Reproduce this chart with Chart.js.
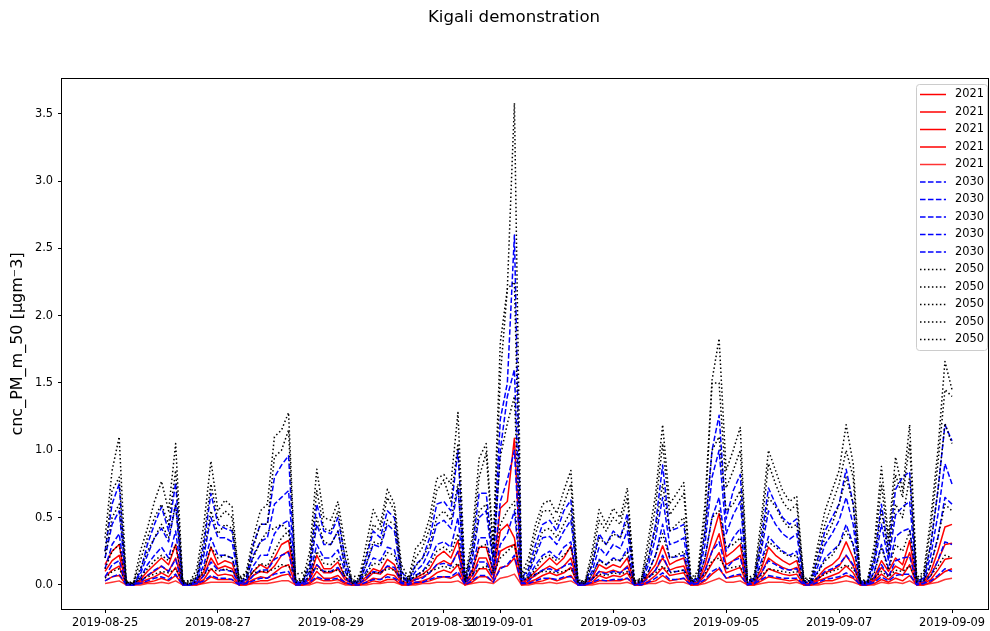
<!DOCTYPE html>
<html><head><meta charset="utf-8">
<script src="https://cdn.jsdelivr.net/npm/chart.js@4.4.1/dist/chart.umd.min.js"></script>
<style>html,body{margin:0;padding:0;background:#fff;}#wrap{width:990px;height:631px;}</style>
</head><body><div id="wrap"><canvas id="c" width="990" height="631"></canvas></div>
<script>
// hours after 2019-08-25 00:00 (3-hourly samples)
const hours = [0,3,6,9,12,15,18,21,24,27,30,33,36,39,42,45,48,51,54,57,60,63,66,69,72,75,78,81,84,87,90,93,96,99,102,105,108,111,114,117,120,123,126,129,132,135,138,141,144,147,150,153,156,159,162,165,168,171,174,177,180,183,186,189,192,195,198,201,204,207,210,213,216,219,222,225,228,231,234,237,240,243,246,249,252,255,258,261,264,267,270,273,276,279,282,285,288,291,294,297,300,303,306,309,312,315,318,321,324,327,330,333,336,339,342,345,348,351,354,357,360];
const tickHours = [0,48,96,144,168,216,264,312,360];
const tickLabels = ['2019-08-25','2019-08-27','2019-08-29','2019-08-31','2019-09-01','2019-09-03','2019-09-05','2019-09-07','2019-09-09'];
const yTickValues = [0,0.5,1,1.5,2,2.5,3,3.5];

const r2021a = [0.15,0.25,0.30,0.01,0.00,0.04,0.10,0.15, 0.20,0.15,0.30,0.01,0.00,0.02,0.10,0.28, 0.15,0.18,0.16,0.01,0.02,0.10,0.15,0.12, 0.20,0.30,0.33,0.01,0.01,0.05,0.22,0.12, 0.12,0.17,0.06,0.01,0.01,0.06,0.12,0.10, 0.19,0.15,0.03,0.01,0.05,0.08,0.12,0.21, 0.25,0.20,0.33,0.01,0.10,0.28,0.28,0.10, 0.57,0.62,1.09,0.02,0.05,0.10,0.15,0.20, 0.15,0.20,0.29,0.01,0.00,0.05,0.15,0.12, 0.15,0.13,0.20,0.01,0.01,0.08,0.15,0.29, 0.15,0.18,0.20,0.01,0.02,0.15,0.35,0.53, 0.21,0.25,0.30,0.01,0.02,0.12,0.28,0.22, 0.18,0.15,0.18,0.01,0.01,0.06,0.12,0.15, 0.20,0.32,0.20,0.01,0.01,0.06,0.18,0.10, 0.20,0.15,0.33,0.01,0.02,0.10,0.25,0.43, 0.45];
const r2021b = [0.10,0.18,0.22,0.01,0.00,0.03,0.07,0.10, 0.14,0.10,0.20,0.01,0.00,0.01,0.07,0.20, 0.12,0.14,0.12,0.01,0.02,0.07,0.10,0.09, 0.14,0.22,0.25,0.01,0.01,0.04,0.15,0.09, 0.09,0.12,0.04,0.01,0.01,0.04,0.09,0.08, 0.14,0.11,0.02,0.01,0.04,0.06,0.09,0.15, 0.18,0.15,0.25,0.01,0.07,0.20,0.20,0.07, 0.40,0.45,0.35,0.01,0.04,0.07,0.11,0.14, 0.11,0.14,0.20,0.01,0.00,0.04,0.10,0.09, 0.11,0.09,0.14,0.01,0.01,0.06,0.11,0.20, 0.11,0.13,0.14,0.01,0.01,0.11,0.25,0.38, 0.15,0.18,0.22,0.01,0.01,0.09,0.20,0.16, 0.13,0.11,0.13,0.01,0.01,0.04,0.09,0.11, 0.14,0.22,0.14,0.01,0.01,0.04,0.13,0.07, 0.14,0.11,0.24,0.01,0.01,0.07,0.18,0.30, 0.31];
const r2021c = [0.06,0.11,0.14,0.00,0.00,0.02,0.04,0.06, 0.09,0.06,0.13,0.00,0.00,0.01,0.04,0.12, 0.07,0.08,0.07,0.00,0.01,0.04,0.06,0.05, 0.09,0.13,0.15,0.00,0.00,0.02,0.10,0.05, 0.05,0.07,0.02,0.00,0.00,0.02,0.05,0.04, 0.08,0.07,0.01,0.00,0.02,0.03,0.05,0.09, 0.11,0.09,0.15,0.00,0.04,0.12,0.12,0.04, 0.25,0.28,0.30,0.01,0.02,0.04,0.07,0.09, 0.07,0.09,0.13,0.00,0.00,0.02,0.07,0.05, 0.07,0.06,0.09,0.00,0.00,0.03,0.07,0.13, 0.07,0.08,0.09,0.00,0.01,0.07,0.16,0.24, 0.09,0.11,0.13,0.00,0.01,0.05,0.12,0.10, 0.08,0.07,0.08,0.00,0.00,0.03,0.05,0.07, 0.09,0.14,0.09,0.00,0.00,0.03,0.08,0.04, 0.09,0.07,0.15,0.00,0.01,0.04,0.11,0.19, 0.20];
const r2021d = [0.03,0.06,0.07,0.00,0.00,0.01,0.02,0.03, 0.05,0.03,0.07,0.00,0.00,0.00,0.02,0.06, 0.04,0.04,0.04,0.00,0.00,0.02,0.03,0.03, 0.05,0.07,0.08,0.00,0.00,0.01,0.05,0.03, 0.03,0.04,0.01,0.00,0.00,0.01,0.03,0.02, 0.04,0.04,0.00,0.00,0.01,0.02,0.03,0.05, 0.06,0.05,0.08,0.00,0.02,0.06,0.06,0.02, 0.13,0.14,0.20,0.00,0.01,0.02,0.03,0.05, 0.03,0.05,0.07,0.00,0.00,0.01,0.03,0.03, 0.03,0.03,0.05,0.00,0.00,0.02,0.03,0.07, 0.03,0.04,0.05,0.00,0.00,0.03,0.08,0.12, 0.05,0.06,0.07,0.00,0.00,0.03,0.06,0.05, 0.04,0.03,0.04,0.00,0.00,0.01,0.03,0.03, 0.05,0.07,0.05,0.00,0.00,0.01,0.04,0.02, 0.05,0.03,0.07,0.00,0.00,0.02,0.06,0.10, 0.12];
const r2021e = [0.01,0.02,0.03,0.00,0.00,0.00,0.01,0.01, 0.02,0.01,0.03,0.00,0.00,0.00,0.01,0.02, 0.02,0.02,0.02,0.00,0.00,0.01,0.01,0.01, 0.02,0.03,0.03,0.00,0.00,0.00,0.02,0.01, 0.01,0.02,0.00,0.00,0.00,0.00,0.01,0.01, 0.02,0.02,0.00,0.00,0.00,0.01,0.01,0.02, 0.02,0.02,0.03,0.00,0.01,0.02,0.02,0.01, 0.05,0.06,0.08,0.00,0.00,0.01,0.01,0.02, 0.01,0.02,0.03,0.00,0.00,0.00,0.01,0.01, 0.01,0.01,0.02,0.00,0.00,0.01,0.01,0.03, 0.01,0.02,0.02,0.00,0.00,0.01,0.03,0.05, 0.02,0.02,0.03,0.00,0.00,0.01,0.02,0.02, 0.02,0.01,0.02,0.00,0.00,0.00,0.01,0.01, 0.02,0.03,0.02,0.00,0.00,0.00,0.02,0.01, 0.02,0.01,0.03,0.00,0.00,0.01,0.02,0.04, 0.05];

const b2030a = [0.25,0.60,0.75,0.02,0.00,0.10,0.30,0.45, 0.58,0.40,0.76,0.02,0.00,0.05,0.30,0.68, 0.45,0.42,0.40,0.02,0.05,0.30,0.45,0.45, 0.80,0.89,0.96,0.02,0.02,0.15,0.60,0.40, 0.38,0.50,0.20,0.02,0.03,0.20,0.40,0.35, 0.55,0.50,0.10,0.03,0.15,0.20,0.35,0.60, 0.62,0.55,1.00,0.03,0.25,0.68,0.68,0.20, 1.23,1.50,2.60,0.05,0.12,0.30,0.45,0.48, 0.40,0.55,0.63,0.02,0.01,0.15,0.38,0.30, 0.40,0.35,0.53,0.02,0.03,0.20,0.45,0.89, 0.40,0.42,0.45,0.03,0.05,0.40,1.00,1.26, 0.49,0.70,0.82,0.03,0.05,0.35,0.72,0.60, 0.50,0.45,0.49,0.03,0.03,0.20,0.40,0.50, 0.60,0.86,0.60,0.03,0.02,0.20,0.60,0.25, 0.71,0.80,0.84,0.03,0.05,0.30,0.70,1.19, 1.07];
const b2030b = [0.20,0.45,0.55,0.01,0.00,0.08,0.22,0.35, 0.42,0.32,0.60,0.01,0.00,0.04,0.22,0.50, 0.35,0.35,0.32,0.02,0.04,0.22,0.32,0.35, 0.60,0.65,0.70,0.02,0.02,0.10,0.45,0.30, 0.30,0.40,0.14,0.02,0.02,0.15,0.30,0.28, 0.45,0.40,0.07,0.02,0.10,0.15,0.26,0.45, 0.48,0.42,0.72,0.02,0.18,0.50,0.55,0.15, 1.00,1.40,1.60,0.04,0.08,0.22,0.35,0.36, 0.30,0.40,0.48,0.02,0.01,0.10,0.28,0.22, 0.30,0.27,0.40,0.02,0.02,0.15,0.35,0.65, 0.30,0.32,0.35,0.02,0.04,0.30,0.80,1.00, 0.38,0.52,0.62,0.02,0.04,0.26,0.55,0.45, 0.38,0.34,0.38,0.02,0.02,0.14,0.30,0.38, 0.48,0.65,0.45,0.02,0.02,0.15,0.45,0.18, 0.52,0.58,0.62,0.02,0.04,0.22,0.52,0.90, 0.75];
const b2030c = [0.12,0.30,0.38,0.01,0.00,0.05,0.15,0.22, 0.28,0.20,0.40,0.01,0.00,0.03,0.15,0.35, 0.22,0.22,0.20,0.01,0.03,0.14,0.22,0.22, 0.38,0.45,0.48,0.01,0.01,0.07,0.30,0.20, 0.20,0.26,0.10,0.01,0.02,0.10,0.20,0.18, 0.28,0.26,0.05,0.02,0.07,0.10,0.18,0.30, 0.32,0.28,0.50,0.02,0.12,0.35,0.35,0.10, 0.62,0.78,1.00,0.03,0.06,0.15,0.22,0.25, 0.20,0.28,0.32,0.01,0.01,0.07,0.19,0.15, 0.20,0.18,0.27,0.01,0.02,0.10,0.22,0.45, 0.20,0.21,0.22,0.02,0.03,0.20,0.50,0.65, 0.25,0.35,0.42,0.02,0.03,0.18,0.36,0.30, 0.25,0.22,0.25,0.02,0.02,0.10,0.20,0.25, 0.30,0.45,0.30,0.02,0.01,0.10,0.30,0.12, 0.36,0.40,0.42,0.02,0.03,0.15,0.35,0.65, 0.60];
const b2030d = [0.06,0.15,0.18,0.00,0.00,0.02,0.07,0.11, 0.14,0.10,0.19,0.00,0.00,0.01,0.07,0.17, 0.11,0.11,0.10,0.01,0.01,0.07,0.11,0.11, 0.19,0.22,0.24,0.01,0.01,0.04,0.15,0.10, 0.10,0.13,0.05,0.01,0.01,0.05,0.10,0.09, 0.14,0.13,0.02,0.01,0.04,0.05,0.09,0.15, 0.16,0.14,0.25,0.01,0.06,0.17,0.17,0.05, 0.30,0.38,0.55,0.01,0.03,0.08,0.11,0.12, 0.10,0.14,0.16,0.00,0.00,0.04,0.10,0.08, 0.10,0.09,0.13,0.00,0.01,0.05,0.11,0.22, 0.10,0.10,0.11,0.01,0.01,0.10,0.25,0.32, 0.12,0.18,0.20,0.01,0.01,0.09,0.18,0.15, 0.12,0.11,0.12,0.01,0.01,0.05,0.10,0.12, 0.15,0.22,0.15,0.01,0.00,0.05,0.15,0.06, 0.18,0.20,0.21,0.01,0.01,0.07,0.18,0.32, 0.30];
const b2030e = [0.03,0.06,0.08,0.00,0.00,0.01,0.03,0.05, 0.06,0.04,0.08,0.00,0.00,0.01,0.03,0.07, 0.05,0.05,0.04,0.00,0.01,0.03,0.05,0.05, 0.08,0.09,0.10,0.00,0.00,0.02,0.06,0.04, 0.04,0.05,0.02,0.00,0.00,0.02,0.04,0.04, 0.06,0.05,0.01,0.00,0.02,0.02,0.04,0.06, 0.06,0.06,0.10,0.00,0.03,0.07,0.07,0.02, 0.12,0.15,0.22,0.01,0.01,0.03,0.05,0.05, 0.04,0.06,0.06,0.00,0.00,0.02,0.04,0.03, 0.04,0.04,0.05,0.00,0.00,0.02,0.05,0.09, 0.04,0.04,0.05,0.00,0.01,0.04,0.10,0.13, 0.05,0.07,0.08,0.00,0.01,0.04,0.07,0.06, 0.05,0.05,0.05,0.00,0.00,0.02,0.04,0.05, 0.06,0.09,0.06,0.00,0.00,0.02,0.06,0.03, 0.07,0.08,0.08,0.00,0.01,0.03,0.07,0.12, 0.10];

const k2050a = [0.35,0.85,1.10,0.03,0.01,0.25,0.42,0.62, 0.77,0.55,1.05,0.03,0.02,0.12,0.45,0.92, 0.55,0.63,0.58,0.04,0.10,0.35,0.55,0.60, 1.10,1.15,1.28,0.05,0.04,0.25,0.86,0.50, 0.48,0.62,0.30,0.03,0.05,0.30,0.56,0.45, 0.71,0.60,0.15,0.05,0.27,0.33,0.50,0.79, 0.82,0.75,1.28,0.05,0.35,0.94,1.05,0.30, 1.80,2.20,3.58,0.08,0.20,0.45,0.60,0.63, 0.53,0.70,0.85,0.04,0.02,0.25,0.56,0.45, 0.57,0.50,0.72,0.03,0.05,0.35,0.67,1.19, 0.60,0.68,0.76,0.05,0.10,0.60,1.52,1.83, 0.85,1.00,1.17,0.05,0.08,0.50,1.00,0.85, 0.70,0.62,0.66,0.05,0.05,0.30,0.55,0.70, 0.85,1.19,0.90,0.04,0.03,0.30,0.88,0.35, 0.95,0.70,1.19,0.05,0.10,0.50,1.00,1.66, 1.45];
const k2050b = [0.25,0.70,0.80,0.02,0.01,0.18,0.35,0.50, 0.60,0.45,0.85,0.02,0.01,0.08,0.35,0.75, 0.48,0.55,0.50,0.03,0.08,0.28,0.45,0.45, 0.95,1.00,1.15,0.04,0.03,0.18,0.70,0.42, 0.40,0.55,0.20,0.02,0.04,0.22,0.45,0.40, 0.65,0.55,0.10,0.04,0.20,0.28,0.42,0.70, 0.78,0.62,1.05,0.04,0.28,0.80,0.98,0.25, 1.55,2.20,2.25,0.06,0.15,0.38,0.55,0.55, 0.45,0.60,0.75,0.03,0.02,0.20,0.48,0.40, 0.50,0.45,0.65,0.02,0.04,0.28,0.58,1.05, 0.52,0.60,0.68,0.04,0.08,0.50,1.50,1.50, 0.72,0.85,1.00,0.04,0.06,0.42,0.90,0.75, 0.62,0.55,0.60,0.04,0.04,0.25,0.45,0.60, 0.75,1.00,0.80,0.03,0.02,0.25,0.75,0.30, 0.82,0.65,1.05,0.04,0.08,0.42,0.90,1.45, 1.40];
const k2050c = [0.20,0.50,0.60,0.02,0.01,0.12,0.25,0.35, 0.45,0.35,0.60,0.02,0.01,0.06,0.25,0.55, 0.38,0.45,0.42,0.03,0.06,0.20,0.32,0.40, 0.42,0.45,0.40,0.03,0.03,0.12,0.50,0.32, 0.30,0.40,0.12,0.02,0.03,0.15,0.32,0.30, 0.48,0.45,0.06,0.03,0.14,0.20,0.30,0.50, 0.55,0.48,0.75,0.03,0.20,0.55,0.60,0.20, 0.95,1.20,1.40,0.05,0.10,0.25,0.40,0.42, 0.35,0.45,0.55,0.02,0.01,0.15,0.35,0.30, 0.38,0.35,0.48,0.02,0.03,0.20,0.42,0.75, 0.40,0.45,0.50,0.03,0.06,0.38,1.00,1.10, 0.55,0.60,0.70,0.03,0.05,0.30,0.65,0.58, 0.48,0.42,0.45,0.03,0.03,0.18,0.35,0.45, 0.60,0.80,0.60,0.02,0.02,0.18,0.55,0.22, 0.60,0.50,0.80,0.03,0.06,0.30,0.70,1.20, 1.05];
const k2050d = [0.12,0.25,0.30,0.01,0.00,0.06,0.12,0.18, 0.22,0.18,0.30,0.01,0.00,0.03,0.12,0.28, 0.20,0.22,0.20,0.02,0.04,0.10,0.16,0.14, 0.25,0.35,0.40,0.02,0.02,0.06,0.25,0.16, 0.15,0.20,0.06,0.01,0.02,0.08,0.16,0.15, 0.24,0.22,0.03,0.02,0.07,0.10,0.15,0.25, 0.28,0.24,0.38,0.02,0.10,0.28,0.30,0.10, 0.45,0.55,0.62,0.03,0.05,0.12,0.20,0.22, 0.18,0.22,0.28,0.01,0.01,0.08,0.18,0.15, 0.19,0.18,0.24,0.01,0.02,0.10,0.22,0.38, 0.20,0.22,0.25,0.02,0.03,0.20,0.50,0.55, 0.28,0.30,0.35,0.02,0.03,0.15,0.32,0.28, 0.24,0.21,0.22,0.02,0.02,0.09,0.18,0.22, 0.30,0.40,0.30,0.01,0.01,0.09,0.28,0.11, 0.30,0.25,0.40,0.02,0.03,0.15,0.35,0.60, 0.55];
const k2050e = [0.05,0.10,0.12,0.02,0.02,0.04,0.06,0.08, 0.10,0.09,0.12,0.03,0.03,0.05,0.08,0.12, 0.10,0.12,0.10,0.06,0.08,0.09,0.10,0.10, 0.12,0.15,0.14,0.08,0.09,0.10,0.12,0.10, 0.10,0.11,0.08,0.06,0.07,0.08,0.09,0.09, 0.12,0.11,0.05,0.04,0.06,0.08,0.10,0.12, 0.14,0.12,0.16,0.05,0.08,0.12,0.14,0.08, 0.20,0.25,0.30,0.05,0.06,0.08,0.10,0.10, 0.09,0.10,0.12,0.03,0.03,0.05,0.08,0.07, 0.09,0.08,0.10,0.03,0.04,0.06,0.09,0.14, 0.09,0.10,0.11,0.03,0.04,0.08,0.18,0.20, 0.12,0.13,0.14,0.03,0.04,0.07,0.12,0.11, 0.10,0.09,0.10,0.03,0.03,0.05,0.08,0.10, 0.12,0.15,0.12,0.03,0.03,0.05,0.10,0.06, 0.11,0.10,0.14,0.03,0.04,0.07,0.14,0.22, 0.20];

const seriesLabels = ['2021','2021','2021','2021','2021','2030','2030','2030','2030','2030','2050','2050','2050','2050','2050'];
const seriesValues = [r2021a,r2021b,r2021c,r2021d,r2021e,b2030a,b2030b,b2030c,b2030d,b2030e,k2050a,k2050b,k2050c,k2050d,k2050e];

const FONT = 'DejaVu Sans';
Chart.defaults.font.family = FONT;
Chart.defaults.color = '#000';

const styles = [
  {c:'#ff0000', d:[]}, {c:'#ff0000', d:[]}, {c:'#ff0000', d:[]}, {c:'#ff0000', d:[]}, {c:'rgba(255,0,0,0.8)', d:[]},
  {c:'#0000ff', d:[5.55,2.4]}, {c:'#0000ff', d:[5.55,2.4]}, {c:'#0000ff', d:[5.55,2.4]}, {c:'#0000ff', d:[5.55,2.4]}, {c:'#0000ff', d:[5.55,2.4]},
  {c:'#000000', d:[1.5,2.475]}, {c:'#000000', d:[1.5,2.475]}, {c:'#000000', d:[1.5,2.475]}, {c:'#000000', d:[1.5,2.475]}, {c:'#000000', d:[1.5,2.475]}
];

const datasets = seriesValues.map((vals, i) => ({
  label: seriesLabels[i],
  data: hours.map((h, j) => ({x: h, y: vals[j]})),
  borderColor: styles[i].c,
  borderDash: styles[i].d,
  borderWidth: 1.5,
  borderCapStyle: 'butt',
  borderJoinStyle: 'round',
  pointRadius: 0,
  fill: false,
  tension: 0,
  order: 100 - i
}));

const helperPlugin = {
  id: 'helper',
  afterLayout(chart) {
    if (chart.titleBlock) { chart.titleBlock.left += 40; }
  },
  afterDatasetsDraw(chart) {
    const {ctx, chartArea: a} = chart;
    ctx.save();
    ctx.strokeStyle = '#000';
    ctx.lineWidth = 1;
    ctx.strokeRect(Math.round(a.left) - 0.5, Math.round(a.top) - 0.5, Math.round(a.right - a.left) + 1, Math.round(a.bottom - a.top) + 1);
    ctx.restore();
  },
  afterDraw(chart) {
    const ctx = chart.ctx;
    const x0 = 916.5, y0 = 84.5, w = 71, h = 266, r = 3;
    ctx.save();
    ctx.beginPath();
    ctx.moveTo(x0 + r, y0);
    ctx.lineTo(x0 + w - r, y0); ctx.quadraticCurveTo(x0 + w, y0, x0 + w, y0 + r);
    ctx.lineTo(x0 + w, y0 + h - r); ctx.quadraticCurveTo(x0 + w, y0 + h, x0 + w - r, y0 + h);
    ctx.lineTo(x0 + r, y0 + h); ctx.quadraticCurveTo(x0, y0 + h, x0, y0 + h - r);
    ctx.lineTo(x0, y0 + r); ctx.quadraticCurveTo(x0, y0, x0 + r, y0);
    ctx.closePath();
    ctx.fillStyle = 'rgba(255,255,255,0.8)';
    ctx.fill();
    ctx.strokeStyle = '#cccccc';
    ctx.lineWidth = 1;
    ctx.stroke();
    chart.data.datasets.forEach((ds, k) => {
      const y = 94.5 + 17.5 * k;
      ctx.beginPath();
      ctx.setLineDash(ds.borderDash || []);
      ctx.lineCap = 'butt';
      ctx.lineWidth = ds.borderWidth;
      ctx.strokeStyle = ds.borderColor;
      ctx.moveTo(920, y); ctx.lineTo(946, y);
      ctx.stroke();
      ctx.setLineDash([]);
      ctx.fillStyle = '#000';
      ctx.font = '11.4px "' + FONT + '"';
      ctx.textBaseline = 'middle';
      ctx.textAlign = 'left';
      ctx.fillText(ds.label, 955, y);
    });
    ctx.restore();
  }
};

new Chart(document.getElementById('c'), {
  type: 'line',
  data: { datasets },
  options: {
    responsive: false,
    animation: false,
    devicePixelRatio: 1,
    layout: { padding: { left: 0, right: 2, top: 0, bottom: 0 } },
    plugins: {
      legend: { display: false },
      tooltip: { enabled: false },
      title: {
        display: true,
        text: 'Kigali demonstration',
        font: { size: 16.6, weight: 'normal', family: FONT, lineHeight: 1.2 },
        color: '#000',
        padding: { top: 8, bottom: 51 }
      }
    },
    scales: {
      x: {
        type: 'linear',
        min: -18.3,
        max: 375.3,
        border: { display: false },
        grid: { display: true, drawOnChartArea: false, drawTicks: true, tickLength: 4, color: '#000' },
        afterBuildTicks: (scale) => { scale.ticks = tickHours.map(v => ({ value: v })); },
        afterFit: (scale) => { scale.height = 22; },
        ticks: {
          autoSkip: false,
          maxRotation: 0,
          minRotation: 0,
          padding: 3,
          font: { size: 11.4, family: FONT },
          color: '#000',
          callback: (v) => { const k = tickHours.indexOf(v); return k >= 0 ? tickLabels[k] : ''; }
        }
      },
      y: {
        type: 'linear',
        min: -0.179,
        max: 3.759,
        border: { display: false },
        grid: { display: true, drawOnChartArea: false, drawTicks: true, tickLength: 4, color: '#000' },
        afterBuildTicks: (scale) => { scale.ticks = yTickValues.map(v => ({ value: v })); },
        afterFit: (scale) => { scale.width = 62; },
        title: {
          display: true,
          text: 'cnc_PM_m_50 [μgm⁻3]',
          font: { size: 16, family: FONT, lineHeight: 1.2 },
          color: '#000',
          padding: { top: 8, bottom: 0 }
        },
        ticks: {
          padding: 5,
          font: { size: 11.4, family: FONT },
          color: '#000',
          callback: (v) => Number(v).toFixed(1)
        }
      }
    }
  },
  plugins: [helperPlugin]
});
</script>
</body></html>
